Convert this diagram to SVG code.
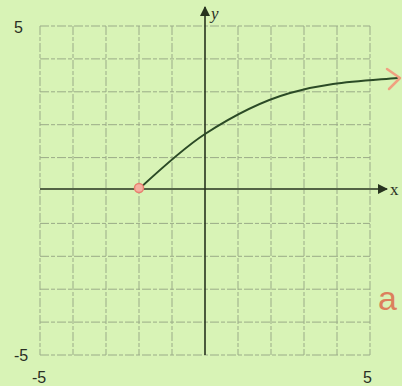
<svg xmlns="http://www.w3.org/2000/svg" width="402" height="386" viewBox="0 0 402 386">
<defs>
<style>
.grid{stroke:#9aab88;stroke-width:1;stroke-dasharray:9 2 4 2;fill:none}
.axis{stroke:#27331f;stroke-width:1.6;fill:none}
.lbl{font-family:"Liberation Sans",sans-serif;font-size:16px;fill:#2a2f25}
.ax{font-family:"Liberation Serif",serif;font-size:17px;fill:#2a2f25}
</style>
<marker id="ah" viewBox="0 0 10 10" refX="9" refY="5" markerWidth="11" markerHeight="10" markerUnits="userSpaceOnUse" orient="auto">
<path d="M0,0 L10,5 L0,10 Z" fill="#27331f"/>
</marker>
</defs>
<rect width="402" height="386" fill="#d8f3b6"/>
<g id="grid">
<path class="grid" d="M40,26V355M73,26V355M106,26V355M139,26V355M172,26V355M238,26V355M271,26V355M304,26V355M337,26V355M370,26V355"/>
<path class="grid" d="M40,26H370M40,58.9H370M40,91.8H370M40,124.7H370M40,157.6H370M40,223.4H370M40,256.3H370M40,289.2H370M40,322.1H370M40,355H370"/>
</g>
<g id="axes">
<line class="axis" x1="40" y1="189" x2="387" y2="189" marker-end="url(#ah)"/>
<line class="axis" x1="205" y1="355" x2="205" y2="7" marker-end="url(#ah)"/>
<text class="ax" x="390" y="195">x</text>
<text class="ax" x="211" y="19" font-style="italic">y</text>
</g>
<g id="labels">
<text class="lbl" x="14" y="33">5</text>
<text class="lbl" x="14" y="361">-5</text>
<text class="lbl" x="32" y="383">-5</text>
<text class="lbl" x="363" y="383">5</text>
<text x="378" y="310" font-family="Liberation Sans,sans-serif" font-size="34" fill="#dc7f5c">a</text>
</g>
<g id="curve">
<path d="M139,189 C165,165 185,147 205,134 S255,103 290,93 S350,82 398,78" fill="none" stroke="#2b4a26" stroke-width="2"/>
<path d="M387,69 L400,78 L389,89" fill="none" stroke="#f0a080" stroke-width="2.5" stroke-linecap="round" stroke-linejoin="round"/>
<circle cx="139" cy="188" r="4.5" fill="#f4b0a0" stroke="#e88070" stroke-width="1.5"/>
</g>
</svg>
